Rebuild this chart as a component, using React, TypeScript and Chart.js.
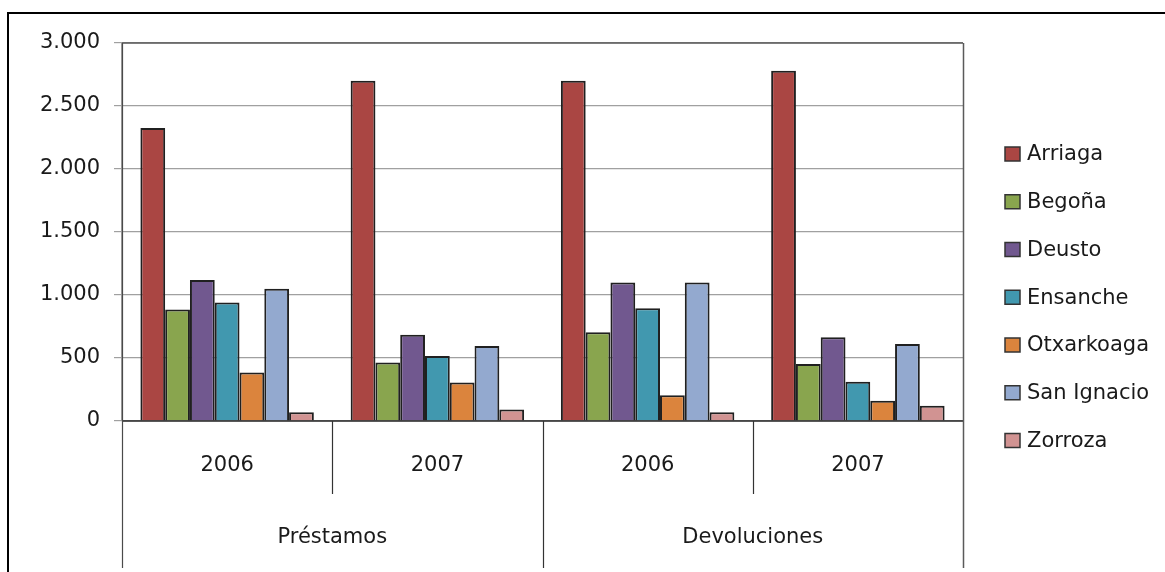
import React, { useEffect, useRef } from 'react';
import { Chart, registerables } from 'chart.js';

Chart.register(...registerables);

const groups = ['Préstamos', 'Devoluciones'];
const years = ['2006', '2007', '2006', '2007'];
const seriesNames = ['Arriaga', 'Begoña', 'Deusto', 'Ensanche', 'Otxarkoaga', 'San Ignacio', 'Zorroza'];
const seriesColors = ['#AA4643', '#89A54E', '#71588F', '#4198AF', '#DB843D', '#93A9CF', '#D19392'];
const arriaga = [2325, 2700, 2700, 2780];
const begona = [885, 465, 705, 452];
const deusto = [1120, 685, 1100, 665];
const ensanche = [940, 515, 895, 312];
const otxarkoaga = [385, 305, 205, 160];
const sanIgnacio = [1050, 595, 1100, 612];
const zorroza = [70, 92, 70, 122];
const yMin = 0;
const yMax = 3000;
const yStep = 500;

const seriesValues = [arriaga, begona, deusto, ensanche, otxarkoaga, sanIgnacio, zorroza];

const FONT = '"DejaVu Sans", sans-serif';
const TEXT = '#1a1a1a';

function fmt(v: number): string {
  const s = Math.round(v).toString();
  return s.replace(/\B(?=(\d{3})+(?!\d))/g, '.');
}

const decorPlugin = {
  id: 'decor',
  afterDraw(chart: any) {
    const { ctx, chartArea: a, scales } = chart;
    const x = scales.x;
    ctx.save();
    // plot area border (top)
    ctx.strokeStyle = '#5a5a5a';
    ctx.lineWidth = 1.5;
    ctx.beginPath();
    ctx.moveTo(a.left, a.top);
    ctx.lineTo(a.right, a.top);
    ctx.stroke();
    // category axis line
    ctx.strokeStyle = '#2a2a2a';
    ctx.beginPath();
    ctx.moveTo(a.left, a.bottom);
    ctx.lineTo(a.right, a.bottom);
    ctx.stroke();

    const n = years.length;
    const c0 = x.getPixelForValue(0);
    const step = x.getPixelForValue(1) - c0;
    const bounds: number[] = [];
    for (let i = 0; i <= n; i++) bounds.push(c0 - step / 2 + i * step);

    // separators
    for (let i = 0; i <= n; i++) {
      const long = i % 2 === 0;
      const edge = i === 0 || i === n;
      const bx = Math.round(bounds[i]) + 0.5;
      ctx.strokeStyle = i === 0 ? '#4a4a4a' : '#333333';
      if (i === n) ctx.strokeStyle = '#5a5a5a';
      ctx.lineWidth = i === n ? 1.5 : 1.2;
      ctx.beginPath();
      ctx.moveTo(bx, edge ? a.top : a.bottom);
      ctx.lineTo(bx, a.bottom + (long ? 147 : 73));
      ctx.stroke();
    }

    ctx.fillStyle = TEXT;
    ctx.font = `21px ${FONT}`;
    ctx.textAlign = 'center';
    ctx.textBaseline = 'middle';
    for (let i = 0; i < n; i++) {
      ctx.fillText(years[i], x.getPixelForValue(i), a.bottom + 45);
    }
    for (let g = 0; g < groups.length; g++) {
      const cx = (bounds[g * 2] + bounds[g * 2 + 2]) / 2;
      ctx.fillText(groups[g], cx, a.bottom + 117);
    }

    // legend
    const lx = a.right + 42;
    const ly0 = a.top + 111;
    const dy = 47.75;
    ctx.textAlign = 'left';
    chart.data.datasets.forEach((ds: any, i: number) => {
      const cy = ly0 + i * dy;
      ctx.fillStyle = ds.backgroundColor;
      ctx.fillRect(lx, cy - 7, 15, 14);
      ctx.strokeStyle = '#333';
      ctx.lineWidth = 1.5;
      ctx.strokeRect(lx, cy - 7, 15, 14);
      ctx.fillStyle = TEXT;
      ctx.fillText(ds.label, lx + 22, cy + 1);
    });
    ctx.restore();
  },
};

export default function App() {
  const ref = useRef<HTMLCanvasElement | null>(null);
  useEffect(() => {
    if (!ref.current) return;
    const chart = new Chart(ref.current, {
      type: 'bar',
      data: {
        labels: years,
        datasets: seriesNames.map((name, i) => ({
          label: name,
          data: seriesValues[i],
          backgroundColor: seriesColors[i],
          borderColor: '#202020',
          borderWidth: 2,
          borderSkipped: 'bottom',
          categoryPercentage: 0.825,
          barPercentage: 1.0,
        })),
      },
      options: {
        responsive: false,
        animation: false,
        devicePixelRatio: 1,
        layout: { padding: { left: 0, top: 43, right: 202, bottom: 151 } },
        plugins: {
          legend: { display: false },
          tooltip: { enabled: false },
          title: { display: false },
        },
        scales: {
          x: {
            display: false,
            grid: { display: false },
          },
          y: {
            min: yMin,
            max: yMax,
            afterFit: (s: any) => {
              s.width = 122;
            },
            ticks: {
              stepSize: yStep,
              padding: 14,
              color: TEXT,
              font: { family: FONT, size: 21 },
              callback: (v: any) => fmt(Number(v)),
            },
            grid: {
              color: '#a0a0a0',
              lineWidth: 1.2,
              tickLength: 8,
              drawTicks: true,
            },
            border: { display: true, color: '#a0a0a0', width: 1.5 },
          },
        },
      },
      plugins: [decorPlugin],
    });
    return () => chart.destroy();
  }, []);

  return (
    <div
      style={{
        position: 'fixed',
        left: 0,
        top: 0,
        width: 1165,
        height: 572,
        overflow: 'hidden',
        background: '#fff',
      }}
    >
      <div
        style={{
          position: 'absolute',
          left: 7,
          top: 12,
          width: 1200,
          height: 600,
          borderTop: '2.5px solid #000',
          borderLeft: '2.5px solid #000',
        }}
      />
      <canvas ref={ref} width={1165} height={572} style={{ position: 'absolute', left: 0, top: 0 }} />
    </div>
  );
}
